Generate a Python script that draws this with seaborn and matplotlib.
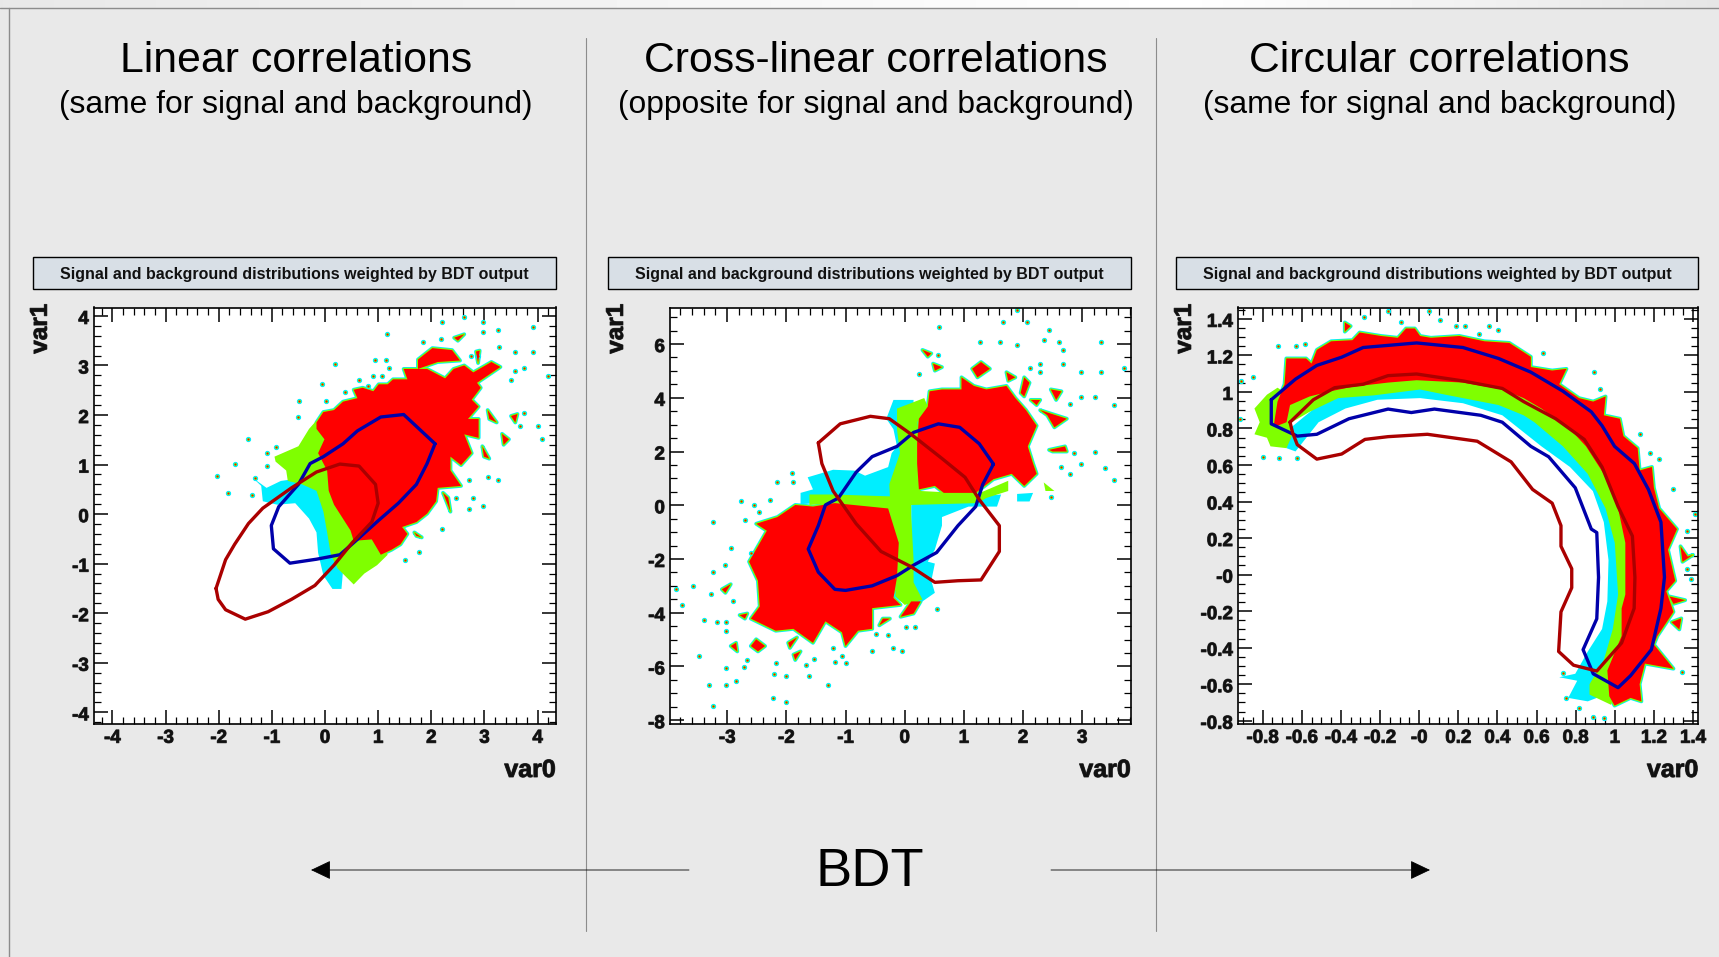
import matplotlib
matplotlib.use("Agg")
import matplotlib.pyplot as plt
import matplotlib.patheffects as pe
from matplotlib.transforms import ScaledTranslation
import numpy as np
import seaborn as sns

W, H = 1719, 957
BG = "#e9e9e9"

# --- text ---
panel_titles = ["Linear correlations", "Cross-linear correlations", "Circular correlations"]
panel_subtitles = ["(same for signal and background)", "(opposite for signal and background)",
                   "(same for signal and background)"]
box_title = "Signal and background distributions weighted by BDT output"

# --- panel 1: linear ---
p1_xlim = (-4.34, 4.34)
p1_ylim = (-4.24, 4.17)
p1_xticks = [-4, -3, -2, -1, 0, 1, 2, 3, 4]
p1_yticks = [-4, -3, -2, -1, 0, 1, 2, 3, 4]
p1_blue = [(2.07, 1.42), (1.48, 2.01), (1.05, 1.96), (0.61, 1.68), (0.34, 1.42), (-0.03, 1.16), (-0.28, 1.02),
           (-0.5, 0.6), (-0.87, 0.15), (-1.01, -0.23), (-0.97, -0.70), (-0.66, -0.99), (-0.16, -0.91), (0.28, -0.82),
           (0.61, -0.51), (1.01, -0.125), (1.38, 0.22), (1.72, 0.60), (1.92, 1.02)]
p1_darkred = [(-2.05, -1.5), (-1.87, -0.92), (-1.70, -0.61), (-1.44, -0.19), (-1.17, 0.12), (-0.63, 0.53), (-0.16, 0.85),
              (0.28, 1.01), (0.64, 0.97), (0.95, 0.60), (1.0, 0.22), (0.88, -0.16), (0.51, -0.58), (0.17, -1.03),
              (-0.19, -1.44), (-0.63, -1.72), (-1.07, -1.97), (-1.50, -2.12), (-1.87, -1.93), (-2.01, -1.72)]
p1_red = [[(-0.16, 1.72), (-0.01, 1.51), (-0.13, 1.23), (0.04, 0.88), (0.07, 0.47), (0.17, 0.19), (0.48, -0.33),
           (0.54, -0.54), (0.88, -0.51), (1.05, -0.82), (1.25, -0.72), (1.42, -0.61), (1.55, -0.40), (1.45, -0.26),
           (1.72, -0.16), (1.92, 0.01), (2.09, 0.26), (2.12, 0.53), (2.56, 0.57), (2.36, 0.88), (2.36, 1.16),
           (2.56, 0.99), (2.76, 1.23), (2.62, 1.61), (2.89, 1.54), (2.89, 1.92), (2.69, 1.92), (2.89, 2.17),
           (2.76, 2.31), (2.93, 2.55), (2.86, 2.65), (3.30, 2.97), (3.13, 3.07), (2.79, 2.86), (2.62, 3.0),
           (2.42, 2.93), (2.26, 2.74), (1.92, 2.93), (1.48, 2.93), (1.55, 2.72), (1.28, 2.72), (1.18, 2.62),
           (1.01, 2.62), (0.91, 2.48), (0.71, 2.55), (0.54, 2.51), (0.61, 2.34), (0.34, 2.27), (0.17, 2.10),
           (-0.03, 2.06), (-0.16, 1.85)],
          [(1.75, 2.93), (1.75, 3.12), (2.02, 3.35), (2.39, 3.31), (2.54, 3.10), (2.12, 3.07)],
          [(3.33, 1.62), (3.46, 1.51), (3.36, 1.40)],
          [(3.06, 2.10), (3.23, 1.85), (3.09, 1.92)],
          [(2.96, 1.37), (3.09, 1.12), (2.99, 1.16)],
          [(2.22, 0.43), (2.36, 0.05), (2.32, 0.33)],
          [(1.68, -0.37), (1.82, -0.47), (1.72, -0.44)],
          [(2.43, 3.56), (2.62, 3.63), (2.50, 3.50)],
          [(2.84, 3.28), (2.91, 3.30), (2.88, 3.05)],
          [(3.50, 1.98), (3.62, 2.02), (3.58, 1.85)]]
p1_green = [[(-0.3, 1.72), (-0.50, 1.37), (-0.95, 1.16), (-0.93, 1.06), (-0.73, 0.88), (-0.70, 0.67), (-0.43, 0.60),
             (-0.16, 0.47), (-0.03, 0.05), (0.04, -0.37), (0.11, -0.82), (0.24, -1.10), (0.54, -1.42), (0.74, -1.20),
             (0.98, -1.03), (1.18, -0.82), (0.98, -0.51), (0.31, 0.47), (-0.03, 1.92), (-0.16, 1.89)]]
p1_cyan = [[(-1.20, 0.57), (-1.17, 0.26), (-0.90, 0.19), (-0.56, 0.22), (-0.30, -0.09), (-0.16, -0.37), (-0.13, -0.78),
            (-0.03, -1.24), (0.14, -1.51), (0.31, -1.51), (0.34, -1.13), (0.17, -0.23), (-0.03, 0.47), (-0.36, 0.74),
            (-0.83, 0.67), (-1.10, 0.53), (-1.37, 0.74)]]
p1_specks = [(2.20, 3.88), (2.62, 3.97), (2.98, 3.88), (3.92, 3.78), (2.98, 3.67), (3.25, 3.72), (1.16, 3.63), (2.18, 3.54),
             (1.85, 3.47), (3.28, 3.38), (3.58, 3.28), (3.92, 3.28), (2.74, 3.19), (2.88, 3.19), (0.19, 3.03), (0.95, 3.12),
             (1.15, 3.12), (1.21, 2.95), (3.74, 2.95), (3.58, 2.88), (3.50, 2.70), (4.19, 2.78), (0.91, 2.78), (1.08, 2.79),
             (0.64, 2.70), (0.81, 2.58), (-0.05, 2.62), (0.38, 2.46), (0.01, 2.29), (-0.48, 2.28), (-0.50, 1.96), (3.74, 2.05),
             (3.66, 1.77), (4.0, 1.77), (4.09, 1.52), (-1.44, 1.51), (-0.93, 1.35), (-1.10, 1.23), (-1.69, 1.02), (-1.10, 0.97),
             (-2.04, 0.77), (-1.32, 0.73), (2.71, 0.69), (3.07, 0.74), (3.25, 0.69), (2.46, 0.33), (2.79, 0.33), (2.98, 0.17),
             (2.71, 0.10), (2.20, -0.31), (1.77, -0.77), (1.50, -0.92), (-1.37, 0.38), (-1.83, 0.42)]

# --- panel 2: cross-linear ---
p2_xlim = (-3.96, 3.82)
p2_ylim = (-8.15, 7.36)
p2_xticks = [-3, -2, -1, 0, 1, 2, 3]
p2_yticks = [-8, -6, -4, -2, 0, 2, 4, 6]
p2_blue = [(1.50, 1.53), (1.26, 2.29), (0.93, 2.90), (0.57, 3.03), (0.15, 2.71), (-0.13, 2.19), (-0.55, 1.81), (-0.82, 1.23),
           (-1.12, 0.27), (-1.34, 0.01), (-1.46, -0.76), (-1.63, -1.63), (-1.46, -2.49), (-1.18, -3.13), (-1.0, -3.17),
           (-0.55, -3.0), (-0.13, -2.62), (0.15, -2.23), (0.54, -1.76), (0.90, -0.76), (1.20, -0.05), (1.32, 0.78)]
p2_darkred = [(-1.46, 2.32), (-1.09, 3.03), (-0.58, 3.31), (-0.26, 3.22), (0.11, 2.64), (0.63, 1.74), (1.02, 1.04), (1.26, 0.21),
              (1.60, -0.76), (1.60, -1.72), (1.29, -2.78), (0.90, -2.81), (0.51, -2.87), (0.11, -2.29), (-0.40, -1.72),
              (-0.82, -0.69), (-1.21, 0.53), (-1.40, 1.55)]
p2_red = [[(0.24, 3.22), (0.39, 3.67), (0.42, 4.24), (0.63, 4.31), (0.96, 4.31), (0.96, 4.76), (1.17, 4.44), (1.38, 4.31),
           (1.72, 4.44), (1.87, 3.99), (2.05, 3.54), (2.23, 2.96), (2.08, 2.19), (2.17, 1.55), (2.23, 1.17), (2.02, 0.72),
           (1.81, 1.17), (1.50, 0.97), (1.20, 0.46), (0.66, 0.46), (0.51, 0.72), (0.24, 0.59), (0.21, 1.55), (0.21, 2.32)],
          [(-1.18, 0.08), (-0.28, -0.12), (-0.10, -1.40), (-0.13, -2.68), (-0.19, -3.45), (-0.07, -3.71), (-0.55, -3.83),
           (-0.55, -4.60), (-0.79, -4.67), (-1.0, -5.24), (-1.06, -4.73), (-1.34, -4.32), (-1.55, -5.12), (-1.88, -4.60),
           (-2.18, -4.67), (-2.60, -4.22), (-2.45, -3.77), (-2.48, -2.81), (-2.63, -2.10), (-2.33, -0.95), (-2.51, -0.69),
           (-2.15, -0.44), (-1.85, 0.01), (-1.55, -0.05)],
          [(-0.07, -4.15), (0.11, -3.58), (0.27, -3.58), (0.15, -4.03)],
          [(1.14, 5.08), (1.29, 5.33), (1.44, 5.08), (1.23, 4.76)],
          [(1.96, 4.18), (2.02, 4.76), (2.11, 4.56), (2.02, 4.05)],
          [(2.29, 3.54), (2.47, 3.41), (2.74, 3.22), (2.53, 2.90), (2.41, 3.35)],
          [(2.13, 3.92), (2.29, 3.92), (2.23, 3.73)],
          [(2.44, 2.06), (2.71, 2.19), (2.74, 2.0), (2.50, 2.0)],
          [(2.47, 4.31), (2.65, 4.24), (2.56, 3.92)],
          [(1.72, 4.95), (1.87, 4.76), (1.75, 4.63)],
          [(0.48, 5.27), (0.63, 5.14), (0.51, 5.01)],
          [(0.30, 5.78), (0.45, 5.65), (0.39, 5.53)],
          [(-0.37, -4.22), (-0.25, -4.22), (-0.43, -4.47)],
          [(-2.94, -5.24), (-2.85, -5.12), (-2.83, -5.44)],
          [(-2.51, -4.99), (-2.36, -5.24), (-2.48, -5.44), (-2.60, -5.24)],
          [(-1.97, -5.12), (-1.82, -4.92), (-1.94, -5.31)],
          [(-1.88, -5.56), (-1.76, -5.44), (-1.85, -5.76)],
          [(-2.79, -4.09), (-2.66, -4.03), (-2.70, -4.22)],
          [(-3.09, -3.13), (-2.94, -2.94), (-3.03, -3.26)]]
p2_green = [[(-0.13, 3.60), (0.33, 3.99), (0.39, 3.67), (0.21, 3.09), (0.21, 1.55), (0.27, 0.53), (1.23, 0.42), (1.75, 0.91),
             (1.75, 0.53), (1.38, 0.27), (1.23, 0.08), (0.11, 0.01), (0.11, -0.37), (0.15, -2.04), (0.15, -2.87), (0.30, -3.51),
             (0, -3.71), (-0.16, -3.38), (-0.13, -2.81), (-0.11, -1.53), (-0.23, -0.37), (-0.28, -0.12), (-1.15, 0.08),
             (-1.61, 0.01), (-1.61, 0.40), (-1.21, 0.40), (-0.25, 0.33), (-0.26, 0.78), (-0.16, 1.42), (-0.08, 1.94), (-0.13, 2.83)],
            [(2.35, 0.85), (2.53, 0.53), (2.38, 0.53)]]
p2_cyan = [[(-0.19, 3.92), (0.15, 3.92), (0.11, 0.27), (-1.76, 0.04), (-1.76, 0.46), (-1.55, 0.59), (-1.64, 1.04), (-1.21, 1.32),
            (-0.85, 1.29), (-0.67, 1.10), (-0.28, 1.42), (-0.22, 1.94), (-0.13, 2.19), (-0.19, 2.83), (-0.31, 3.22)],
           [(0.11, 0.14), (1.63, 0.40), (1.56, -0.05), (1.08, -0.05), (0.63, -0.44), (0.63, -0.76), (0.51, -1.65), (0.39, -2.10),
            (0.51, -2.17), (0.45, -2.81), (0.51, -3.26), (0.30, -3.58), (-0.07, -3.58), (-0.19, -3.38), (0.11, -2.04)],
           [(1.90, 0.42), (2.17, 0.46), (2.11, 0.14), (1.90, 0.14)]]
p2_specks = [(0.58, 6.65), (1.67, 6.82), (2.06, 6.82), (1.90, 7.26), (2.44, 6.51), (2.36, 6.14), (1.27, 6.06), (1.61, 6.06),
             (1.90, 5.97), (2.60, 6.06), (3.31, 6.06), (2.68, 5.76), (2.68, 5.27), (2.29, 5.27), (2.12, 5.10), (2.29, 4.95),
             (2.98, 4.95), (3.31, 4.95), (3.71, 5.10), (0.25, 4.88), (0.57, 5.59), (2.98, 4.03), (3.21, 4.03), (3.53, 3.73),
             (2.80, 3.77), (3.21, 2.0), (2.86, 1.94), (2.98, 1.55), (3.38, 1.40), (3.53, 0.94), (2.80, 1.17), (2.65, 1.42),
             (2.47, 0.29), (-1.88, 0.88), (-1.91, 1.19), (-2.15, 0.88), (-2.27, 0.18), (-2.54, 0.01), (-2.77, 0.14),
             (-3.24, -0.63), (-2.70, -0.56), (-2.47, -0.24), (-2.94, -1.59), (-2.60, -1.78), (-3.03, -2.23), (-3.24, -2.49),
             (-3.87, -3.10), (-3.57, -3.0), (-3.76, -3.71), (-3.27, -3.32), (-2.91, -3.55), (-3.40, -4.28), (-3.18, -4.35),
             (-3.02, -4.35), (-3.02, -4.67), (-3.48, -5.60), (-3.02, -6.04), (-3.31, -6.69), (-3.02, -6.69), (-2.85, -6.53),
             (-3.24, -7.49), (-2.23, -7.17), (-2.0, -7.32), (-1.29, -6.69), (-2.21, -6.29), (-2.0, -6.37), (-1.61, -6.37),
             (-2.18, -5.88), (-1.67, -5.95), (-1.53, -5.73), (-1.0, -5.88), (-1.17, -5.82), (-1.06, -5.60), (-1.21, -5.31),
             (-0.55, -5.44), (-0.20, -5.31), (-0.05, -5.44), (-0.49, -4.79), (-0.28, -4.83), (0.02, -4.54), (0.18, -4.54),
             (0.55, -3.87), (-2.72, -6.01), (-2.66, -5.76)]

# --- panel 3: circular ---
p3_xlim = (-0.924, 1.427)
p3_ylim = (-0.819, 1.462)
p3_xticks = [-0.8, -0.6, -0.4, -0.2, 0, 0.2, 0.4, 0.6, 0.8, 1, 1.2, 1.4]
p3_yticks = [-0.8, -0.6, -0.4, -0.2, 0, 0.2, 0.4, 0.6, 0.8, 1, 1.2, 1.4]
p3_xlabels = ["-0.8", "-0.6", "-0.4", "-0.2", "-0", "0.2", "0.4", "0.6", "0.8", "1", "1.2", "1.4"]
p3_ylabels = ["-0.8", "-0.6", "-0.4", "-0.2", "-0", "0.2", "0.4", "0.6", "0.8", "1", "1.2", "1.4"]
p3_blue = [(-0.756, 0.957), (-0.632, 1.07), (-0.523, 1.145), (-0.396, 1.19), (-0.286, 1.243), (-0.013, 1.268), (0.224, 1.243),
           (0.406, 1.183), (0.571, 1.108), (0.735, 1.004), (0.88, 0.891), (0.935, 0.815), (0.999, 0.702), (1.10, 0.608),
           (1.172, 0.466), (1.236, 0.287), (1.254, -0.015), (1.236, -0.185), (1.187, -0.411), (1.081, -0.553), (1.017, -0.619),
           (0.89, -0.543), (0.838, -0.411), (0.908, -0.242), (0.917, -0.015), (0.908, 0.23), (0.88, 0.249), (0.798, 0.475),
           (0.662, 0.645), (0.571, 0.702), (0.425, 0.834), (0.315, 0.872), (0.078, 0.906), (-0.04, 0.887), (-0.159, 0.906),
           (-0.359, 0.853), (-0.523, 0.768), (-0.623, 0.758), (-0.756, 0.825)]
p3_darkred = [(-0.66, 0.834), (-0.541, 0.957), (-0.432, 1.023), (-0.286, 1.042), (-0.159, 1.089), (-0.013, 1.098), (0.224, 1.06),
              (0.425, 1.019), (0.534, 0.947), (0.698, 0.853), (0.844, 0.74), (0.935, 0.589), (1.017, 0.372), (1.09, 0.211),
              (1.103, -0.015), (1.099, -0.185), (1.035, -0.374), (0.908, -0.528), (0.789, -0.496), (0.713, -0.421), (0.725, -0.204),
              (0.78, -0.072), (0.78, 0.032), (0.725, 0.155), (0.725, 0.268), (0.68, 0.391), (0.58, 0.466), (0.47, 0.617),
              (0.297, 0.73), (0.042, 0.768), (-0.159, 0.755), (-0.277, 0.74), (-0.396, 0.66), (-0.523, 0.632), (-0.623, 0.711),
              (-0.647, 0.777)]
p3_red = [[(-0.742, 0.825), (-0.724, 0.947), (-0.688, 1.042), (-0.679, 1.183), (-0.578, 1.183), (-0.55, 1.155), (-0.523, 1.23),
           (-0.45, 1.277), (-0.341, 1.283), (-0.304, 1.325), (-0.195, 1.306), (-0.109, 1.296), (-0.067, 1.347), (-0.022, 1.347),
           (0.005, 1.306), (0.06, 1.296), (0.206, 1.306), (0.334, 1.277), (0.461, 1.268), (0.571, 1.192), (0.571, 1.136),
           (0.68, 1.117), (0.753, 1.126), (0.716, 1.042), (0.817, 0.966), (0.89, 0.947), (0.953, 0.975), (0.944, 0.872),
           (1.026, 0.853), (1.044, 0.758), (1.117, 0.692), (1.127, 0.57), (1.19, 0.589), (1.2, 0.475), (1.227, 0.362),
           (1.318, 0.249), (1.272, 0.136), (1.309, -0.034), (1.263, -0.091), (1.30, -0.204), (1.218, -0.336), (1.2, -0.383),
           (1.30, -0.515), (1.154, -0.487), (1.127, -0.6), (1.136, -0.694), (1.081, -0.675), (0.999, -0.717), (0.972, -0.666),
           (0.962, -0.525), (1.035, -0.336), (1.035, -0.185), (1.054, -0.109), (1.054, 0.174), (1.017, 0.362), (0.944, 0.551),
           (0.853, 0.702), (0.771, 0.796), (0.625, 0.909), (0.534, 0.966), (0.425, 1.013), (0.224, 1.051), (-0.013, 1.064),
           (-0.159, 1.051), (-0.341, 1.028), (-0.45, 1.004), (-0.56, 0.975), (-0.66, 0.928), (-0.678, 0.834), (-0.724, 0.815)],
          [(1.336, 0.155), (1.373, 0.098), (1.4, 0.108), (1.346, 0.07)],
          [(1.28, -0.12), (1.36, -0.14), (1.30, -0.16)],
          [(1.29, -0.26), (1.34, -0.24), (1.33, -0.30)],
          [(-0.38, 1.38), (-0.35, 1.36), (-0.38, 1.33)]]
p3_green = [[(0.871, -0.657), (0.981, -0.713), (1.081, -0.298), (1.117, 0.174), (1.026, 0.457), (0.862, 0.777), (0.589, 1.023),
             (-0.013, 1.117), (-0.45, 1.06), (-0.669, 0.985), (-0.724, 1.023), (-0.778, 0.985), (-0.842, 0.909), (-0.815, 0.834),
             (-0.842, 0.768), (-0.778, 0.749), (-0.76, 0.702), (-0.678, 0.692), (-0.651, 0.758), (-0.651, 0.834), (-0.56, 0.891),
             (-0.414, 0.966), (-0.232, 0.981), (0.005, 1.013), (0.133, 0.985), (0.406, 0.928), (0.534, 0.872), (0.589, 0.834),
             (0.735, 0.702), (0.862, 0.551), (0.953, 0.362), (1.0, 0.174), (1.017, -0.109), (0.99, -0.298), (0.944, -0.468),
             (0.871, -0.6)]]
p3_cyan = [[(-0.632, 0.674), (-0.514, 0.834), (-0.377, 0.909), (-0.213, 0.957), (0.005, 0.966), (0.224, 0.938), (0.425, 0.872),
            (0.625, 0.702), (0.771, 0.589), (0.888, 0.457), (0.944, 0.287), (0.968, 0.079), (0.962, -0.147), (0.935, -0.298),
            (0.862, -0.421), (0.798, -0.543), (0.716, -0.562), (0.808, -0.581), (0.762, -0.675), (0.862, -0.694), (0.908, -0.675),
            (1.044, -0.298), (1.081, 0.174), (0.953, 0.551), (0.589, 0.966), (-0.013, 1.064), (-0.45, 0.985), (-0.687, 0.777),
            (-0.678, 0.692)]]
p3_specks = [(-0.283, 1.409), (-0.159, 1.442), (-0.095, 1.385), (0.051, 1.445), (0.106, 1.391), (0.233, 1.362),
             (0.355, 1.362), (0.403, 1.34), (0.306, 1.315), (0.188, 1.362), (-0.724, 1.249), (-0.632, 1.249), (-0.586, 1.264),
             (0.634, 1.211), (0.895, 1.108), (0.926, 1.017), (1.127, 0.768), (1.181, 0.664), (1.227, 0.63), (1.296, 0.466),
             (1.409, 0.334), (1.369, 0.24), (1.391, -0.025), (1.369, 0.032), (1.345, -0.534), (-0.848, 1.083), (-0.91, 1.06),
             (-0.915, 0.853), (-0.797, 0.645), (-0.715, 0.64), (-0.623, 0.64), (0.735, -0.54), (0.753, -0.675), (0.817, -0.732),
             (0.89, -0.779), (0.945, -0.785)]

panels = [
    dict(rect=(94.3, 307.5, 555.7, 724.2), box=(32.5, 257.2, 555.7, 289.3), xlim=p1_xlim, ylim=p1_ylim,
         xticks=p1_xticks, yticks=p1_yticks, xlabels=None, ylabels=None, xsub=5, ysub=5,
         red=p1_red, green=p1_green, cyan=p1_cyan, specks=p1_specks, blue=p1_blue, darkred=p1_darkred),
    dict(rect=(670.4, 307.5, 1130.7, 724.2), box=(608.2, 257.2, 1130.7, 289.3), xlim=p2_xlim, ylim=p2_ylim,
         xticks=p2_xticks, yticks=p2_yticks, xlabels=None, ylabels=None, xsub=5, ysub=4,
         red=p2_red, green=p2_green, cyan=p2_cyan, specks=p2_specks, blue=p2_blue, darkred=p2_darkred),
    dict(rect=(1238.4, 307.5, 1698.3, 724.2), box=(1176.4, 257.2, 1698.3, 289.3), xlim=p3_xlim, ylim=p3_ylim,
         xticks=p3_xticks, yticks=p3_yticks, xlabels=p3_xlabels, ylabels=p3_ylabels, xsub=4, ysub=4,
         red=p3_red, green=p3_green, cyan=p3_cyan, specks=p3_specks, blue=p3_blue, darkred=p3_darkred),
]
title_centers = [296, 876, 1439.5]

sns.set_theme(style="ticks")
plt.rcParams["font.family"] = ["Liberation Sans", "DejaVu Sans"]

fig = plt.figure(figsize=(W / 100, H / 100), dpi=100, facecolor=BG)

# page decoration, drawn in pixel coordinates
bg = fig.add_axes([0, 0, 1, 1], zorder=0)
bg.set_facecolor(BG)
strip = np.interp(np.arange(W), [0, 1180, W], [0.91, 1.0, 0.90]).reshape(1, -1)
bg.imshow(strip, extent=(0, W, 8, 0), cmap="gray", vmin=0, vmax=1, aspect="auto", zorder=0)
bg.set_xlim(0, W)
bg.set_ylim(H, 0)
bg.axis("off")
bg.plot([0, W], [8, 8], color="#8c8c8c", lw=1)
bg.plot([8.5, 8.5], [8, H], color="#8c8c8c", lw=1)
for sx in [585.5, 1155.5]:
    bg.plot([sx, sx], [38, 931], color="#8c8c8c", lw=0.8)
for x0, x1 in [(689, 311), (1051, 1430)]:
    bg.annotate("", xy=(x1, 870), xytext=(x0, 870),
                arrowprops=dict(arrowstyle="-|>,head_length=1.05,head_width=0.5", color="black", lw=0.6,
                                shrinkA=0, shrinkB=0))
bg.text(870, 872, "BDT", ha="center", va="center", fontsize=39, color="black")

for cx, t, st in zip(title_centers, panel_titles, panel_subtitles):
    bg.text(cx, 60.5, t, ha="center", va="center", fontsize=30.8, color="black")
    bg.text(cx, 105, st, ha="center", va="center", fontsize=22.9, color="black")

heavy = [pe.withStroke(linewidth=0.7, foreground="#333333")]
label_shift = ScaledTranslation(0, -1.5 / 100, fig.dpi_scale_trans)

for p in panels:
    bx0, by0, bx1, by1 = p["box"]
    bg.add_patch(plt.Rectangle((bx0, by0), bx1 - bx0, by1 - by0, facecolor="#d8dfe6", edgecolor="black", lw=1))
    bg.text((bx0 + bx1) / 2, (by0 + by1) / 2 + 1, box_title, ha="center", va="center", fontsize=11.5,
            fontweight="bold", color="#111111")

    x0, y0, x1, y1 = p["rect"]
    ax = fig.add_axes([x0 / W, 1 - y1 / H, (x1 - x0) / W, (y1 - y0) / H], zorder=1)
    ax.set_facecolor("white")

    # thin contour rims round the red cells go under everything else
    for poly in p["red"]:
        xs, ys = zip(*poly)
        ax.fill(xs, ys, facecolor="none", edgecolor="#00eeff", lw=2.8, joinstyle="round", zorder=1)
    for poly in p["red"]:
        xs, ys = zip(*poly)
        ax.fill(xs, ys, facecolor="none", edgecolor="#7fff00", lw=1.6, joinstyle="round", zorder=1.1)

    sp_x, sp_y = zip(*p["specks"])
    sns.scatterplot(x=list(sp_x), y=list(sp_y), ax=ax, s=9, color="#7fff00", edgecolor="#00eeff", linewidth=0.8,
                    zorder=1.2, legend=False)
    sns.scatterplot(x=list(sp_x), y=list(sp_y), ax=ax, s=2, color="#ff0000", linewidth=0, zorder=1.3, legend=False)

    for poly in p["cyan"]:
        xs, ys = zip(*poly)
        ax.fill(xs, ys, color="#00eeff", lw=0, zorder=2)
    for poly in p["green"]:
        xs, ys = zip(*poly)
        ax.fill(xs, ys, color="#7fff00", lw=0, zorder=3)
    for poly in p["red"]:
        xs, ys = zip(*poly)
        ax.fill(xs, ys, color="#ff0000", lw=0, zorder=4)

    for key, col in [("blue", "#0000aa"), ("darkred", "#aa0000")]:
        lx, ly = zip(*(p[key] + p[key][:1]))
        sns.lineplot(x=list(lx), y=list(ly), ax=ax, sort=False, estimator=None, color=col, lw=2.4, zorder=5)

    ax.set_xticks(p["xticks"])
    ax.set_yticks(p["yticks"])
    ax.set_xticks(np.arange(p["xticks"][0] - 1, p["xticks"][-1] + 1.001,
                            (p["xticks"][1] - p["xticks"][0]) / p["xsub"]), minor=True)
    ax.set_yticks(np.arange(p["yticks"][0] - 1, p["yticks"][-1] + 1.001,
                            (p["yticks"][1] - p["yticks"][0]) / p["ysub"]), minor=True)
    ax.set_xlim(p["xlim"])
    ax.set_ylim(p["ylim"])
    ax.set_xticklabels(p["xlabels"] if p["xlabels"] else [str(v) for v in p["xticks"]])
    ax.set_yticklabels(p["ylabels"] if p["ylabels"] else [str(v) for v in p["yticks"]])
    ax.tick_params(which="major", direction="in", top=True, right=True, length=10, width=1.1, color="black",
                   labelsize=13.5, labelcolor="#111111", pad=4)
    ax.tick_params(which="minor", direction="in", top=True, right=True, length=5, width=0.9, color="black")
    for lab in ax.get_xticklabels() + ax.get_yticklabels():
        lab.set_fontweight("bold")
        lab.set_path_effects(heavy)
    for lab in ax.get_yticklabels():
        lab.set_transform(lab.get_transform() + label_shift)
    for s in ax.spines.values():
        s.set_linewidth(1.2)
        s.set_color("black")
    ax.set_xlabel("")
    ax.set_ylabel("")

    bg.text(x1, 770, "var0", ha="right", va="center", fontsize=18, fontweight="bold", color="#111111", path_effects=heavy)
    bg.text(x0 - 54, 304, "var1", ha="center", va="top", rotation=90, fontsize=17.5, fontweight="bold", color="#111111",
            path_effects=heavy)

fig.savefig("out.png", dpi=100, facecolor=BG)
